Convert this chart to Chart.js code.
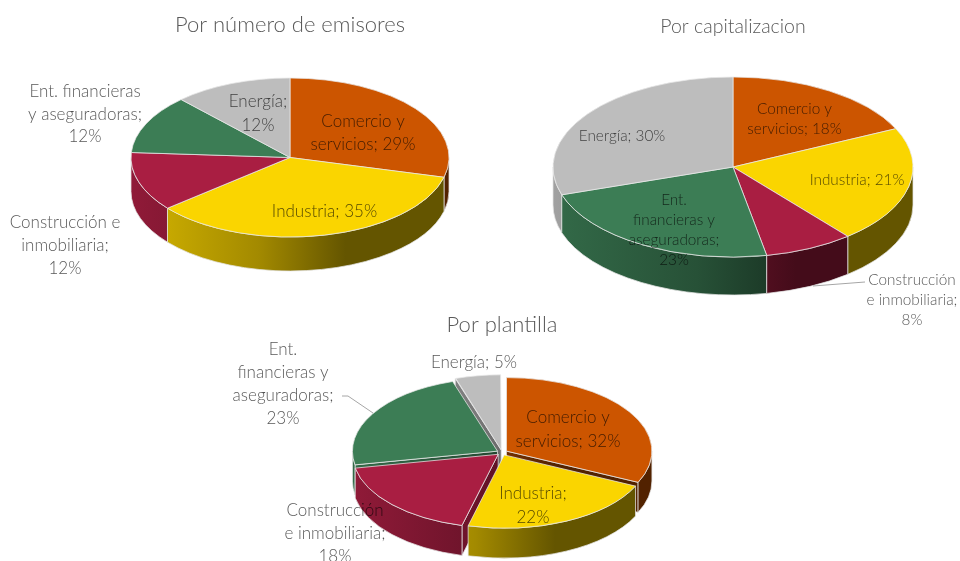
<!DOCTYPE html>
<html><head><meta charset="utf-8">
<script src="https://cdn.jsdelivr.net/npm/chart.js@4"></script>
<style>
html,body{margin:0;padding:0;background:#fff;width:960px;height:561px;overflow:hidden}
canvas{position:absolute;top:0}
</style></head><body>
<script>
// ---- data ----
const categories = ['Comercio y servicios','Industria','Construcción e inmobiliaria','Ent. financieras y aseguradoras','Energía'];
const emisoresValues = [29,35,12,12,12];
const capitalizacionValues = [18,21,8,23,30];
const plantillaValues = [32,22,18,23,5];
const titles = ['Por número de emisores','Por capitalizacion','Por plantilla'];
const emisoresLabels = [['Comercio y','servicios; 29%'],['Industria; 35%'],['Construcción e','inmobiliaria;','12%'],['Ent. financieras','y aseguradoras;','12%'],['Energía;','12%']];
const capitalizacionLabels = [['Comercio y','servicios; 18%'],['Industria; 21%'],['Construcción','e inmobiliaria;','8%'],['Ent.','financieras y','aseguradoras;','23%'],['Energía; 30%']];
const plantillaLabels = [['Comercio y','servicios; 32%'],['Industria;','22%'],['Construcción','e inmobiliaria;','18%'],['Ent.','financieras y','aseguradoras;','23%'],['Energía; 5%']];
const sliceColors = ['#CC5500','#FAD500','#A91E42','#3C7D55','#BDBDBD'];

// ---- layout ----
const FONT = 'Lato';
const TEXT = 'rgba(0,0,0,0.68)';
const pies = [
 {values:emisoresValues, labels:emisoresLabels, title:titles[0], left:0, width:580, cy:157.5, r:159, k:0.5, depth:34, offset:0,
  titleSize:22, titleTop:12, size:17,
  pos:[[363,122,23],[324.5,212,0],[65,223,23],[85,92,22.5],[258,102,24]], leaders:[]},
 {values:capitalizacionValues, labels:capitalizacionLabels, title:titles[1], left:506, width:454, cy:167, r:180, k:0.5, depth:38, offset:0,
  titleSize:19.5, titleTop:15, size:15.3,
  pos:[[794.5,109,20],[857,180,0],[912,280,20],[674,200,20],[622,136,0]],
  leaders:[[[865,282],[813,286]]]},
 {values:plantillaValues, labels:plantillaLabels, title:titles[2], left:202, width:600, cy:452.5, r:145, k:0.505, depth:30, offset:21,
  titleSize:22, titleTop:312, size:17,
  pos:[[568,418,24],[533,494,24],[335,511,23],[283,350,22.7],[474,363,0]],
  leaders:[[[342,396],[348,396],[373,413]]]}
];

function shade(hex,f){
  const n=parseInt(hex.slice(1),16);
  return `rgb(${Math.round((n>>16)*f)},${Math.round(((n>>8)&255)*f)},${Math.round((n&255)*f)})`;
}

const pie3d = {
  id:'pie3d',
  beforeDatasetsDraw(chart,args,o){
    const ctx=chart.ctx, arcs=chart.getDatasetMeta(0).data;
    const el0=arcs[0];
    ctx.save();
    ctx.translate(el0.x,o.cy);
    ctx.scale(1,o.k);
    ctx.translate(-el0.x,-el0.y);
    const D=o.depth/o.k;
    const sorted=[...arcs].sort((a,b)=>Math.sin((a.startAngle+a.endAngle)/2)-Math.sin((b.startAngle+b.endAngle)/2));
    sorted.forEach(el=>{
      const a1=el.startAngle,a2=el.endAngle,mid=(a1+a2)/2;
      const t=(el.options.offset||0)/4;
      const fix=1-Math.sin(Math.min(Math.PI,a2-a1));
      const r=el.outerRadius+t*fix;
      const x=el.x+Math.cos(mid)*t, y=el.y+Math.sin(mid)*t;
      const base=el.options.backgroundColor;
      const g=ctx.createLinearGradient(x-r,0,x+r,0);
      g.addColorStop(0,shade(base,.85));
      g.addColorStop(.4,shade(base,.65));
      g.addColorStop(.675,shade(base,.4));
      g.addColorStop(1,shade(base,.4));
      ctx.fillStyle=g;
      ctx.strokeStyle='#e4e4e4';
      ctx.lineWidth=1;
      const face=a=>{
        ctx.beginPath();
        ctx.moveTo(x,y);
        ctx.lineTo(x+Math.cos(a)*r,y+Math.sin(a)*r);
        ctx.lineTo(x+Math.cos(a)*r,y+Math.sin(a)*r+D);
        ctx.lineTo(x,y+D);
        ctx.closePath();
        ctx.fill();ctx.stroke();
      };
      if(t>0){
        if(-Math.cos(a1)>0) face(a1);
        if(Math.cos(a2)>0) face(a2);
      }
      const s=Math.max(a1,0), e=Math.min(a2,Math.PI);
      if(e>s){
        ctx.beginPath();
        ctx.arc(x,y,r,s,e);
        ctx.lineTo(x+Math.cos(e)*r,y+Math.sin(e)*r+D);
        ctx.arc(x,y+D,r,e,s,true);
        ctx.closePath();
        ctx.fill();ctx.stroke();
      }
    });
  },
  afterDatasetsDraw(chart){ chart.ctx.restore(); },
  afterDraw(chart,args,o){
    const ctx=chart.ctx;
    ctx.save();
    ctx.strokeStyle='#a6a6a6';ctx.lineWidth=1;
    o.leaders.forEach(l=>{
      ctx.beginPath();
      l.forEach((p,i)=>i?ctx.lineTo(p[0]-o.left,p[1]):ctx.moveTo(p[0]-o.left,p[1]));
      ctx.stroke();
    });
    ctx.fillStyle=TEXT;
    ctx.font=`300 ${o.size}px ${FONT}`;
    ctx.textAlign='center';ctx.textBaseline='middle';
    o.lines.forEach((lines,i)=>{
      const [x,y,lh]=o.pos[i];
      lines.forEach((s,j)=>ctx.fillText(s,x-o.left,y+j*lh));
    });
    ctx.restore();
  }
};

pies.forEach(p=>{
  const c=document.createElement('canvas');
  c.width=p.width;c.height=561;
  c.style.left=p.left+'px';c.style.width=p.width+'px';c.style.height='561px';
  document.body.appendChild(c);
  new Chart(c,{
    type:'pie',
    data:{labels:categories,datasets:[{
      data:p.values,backgroundColor:sliceColors,borderColor:'#e8e8e8',borderWidth:1,
      offset:p.offset,radius:p.r,clip:false
    }]},
    options:{
      responsive:false,animation:false,devicePixelRatio:1,
      events:[],
      layout:{padding:0},
      plugins:{
        legend:{display:false},tooltip:{enabled:false},
        title:{display:true,text:p.title,color:'#595959',
          font:{family:FONT,size:p.titleSize,weight:'300'},
          padding:{top:p.titleTop,bottom:0}},
        pie3d:{cy:p.cy,k:p.k,depth:p.depth,lines:p.labels,pos:p.pos,leaders:p.leaders,left:p.left,size:p.size}
      }
    },
    plugins:[pie3d]
  });
});
</script>
</body></html>
